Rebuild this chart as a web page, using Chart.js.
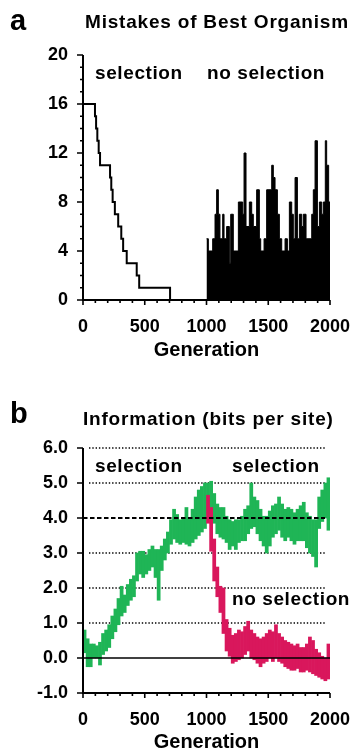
<!DOCTYPE html>
<html>
<head>
<meta charset="utf-8">
<script src="https://cdn.jsdelivr.net/npm/chart.js@4/dist/chart.umd.min.js"></script>
<style>
  html, body { margin: 0; padding: 0; background: #fff; }
  #wrapA { position: absolute; left: 0; top: 0; width: 355px; height: 375px; }
  #wrapB { position: absolute; left: 0; top: 375px; width: 355px; height: 376px; }
</style>
</head>
<body>
<div id="wrapA"><canvas id="chartA"></canvas></div>
<div id="wrapB"><canvas id="chartB"></canvas></div>
<script>
// --- (a) Mistakes of best organism ---
// selection phase: generation at which the count drops to the next value
const stepGen = [0, 97, 106, 116, 127, 138, 219, 229, 240, 258, 285, 310, 325, 354, 435, 455, 705, 1000];
const stepMistakes = [16, 15, 14, 13, 12, 11, 10, 9, 8, 7, 6, 5, 4, 3, 2, 1, 0, 0];

// no selection phase (upper edge of the black region)
const noiseGen = [1000, 1015, 1050, 1069, 1082, 1096, 1109, 1131, 1142, 1163, 1185, 1196, 1217, 1258, 1293, 1304,
  1320, 1347, 1366, 1379, 1406, 1428, 1439, 1466, 1487, 1528, 1541, 1555, 1574, 1590, 1609, 1636, 1655, 1671,
  1690, 1703, 1717, 1736, 1752, 1771, 1784, 1806, 1852, 1865, 1879, 1898, 1914, 1933, 1946, 1962, 1973, 1989, 2000];
const noiseMistakes = [5, 4, 5, 7, 9, 7, 5, 7, 5, 6, 3, 7, 4, 8, 7, 12,
  6, 8, 7, 6, 9, 5, 4, 5, 9, 11, 10, 9, 7, 5, 4, 5, 4, 8,
  7, 5, 10, 5, 7, 6, 7, 5, 7, 9, 13, 6, 8, 7, 8, 13, 11, 8, 8];

// --- (b) Information (bits per site), 25-generation bins, low/high of the noisy trace ---
const binWidth = 25;
const greenLo = [0.15, -0.25, -0.25, 0.0, 0.0, -0.2, 0.1, 0.2, 0.3, 0.55,
  0.75, 0.95, 1.2, 1.3, 1.5, 1.65, 1.75, 2.2, 2.4, 2.3,
  2.4, 2.5, 2.6, 2.3, 1.65, 2.5, 2.8, 3.0, 3.25, 3.4,
  3.3, 3.25, 3.3, 3.25, 3.2, 3.3, 3.4, 3.5, 3.6, 3.7,
  4.1, 4.2, 3.85, 3.55, 3.45, 3.4, 3.3, 3.1, 3.2, 3.1,
  3.3, 3.35, 3.35, 3.55, 3.7, 3.75, 3.55, 3.35, 3.2, 3.0,
  3.2, 3.45, 3.55, 3.65, 3.45, 3.35, 3.45, 3.35, 3.25, 3.35,
  3.35, 3.35, 3.15, 3.0, 2.9, 2.6, 3.7, 3.9, 4.0, 3.65];
const greenHi = [0.8, 0.55, 0.4, 0.4, 0.35, 0.45, 0.7, 0.8, 0.95, 1.2,
  1.4, 1.7, 2.05, 1.8, 2.1, 2.25, 2.35, 3.0, 3.05, 3.05,
  2.95, 3.1, 3.2, 3.1, 3.1, 3.2, 3.4, 3.6, 3.95, 4.25,
  4.1, 3.95, 4.0, 4.3, 4.0, 4.25, 4.6, 4.8, 4.9, 5.0,
  5.0, 5.05, 4.7, 4.4, 4.3, 4.3, 4.05, 3.95, 3.9, 3.95,
  3.95, 4.05, 4.25, 4.35, 5.0, 4.6, 4.5, 4.25, 4.05, 4.05,
  4.2, 4.35, 4.4, 4.6, 4.4, 4.25, 4.3, 4.25, 4.15, 4.25,
  4.35, 4.45, 4.15, 4.05, 3.95, 3.95, 4.6, 4.8, 5.0, 5.15];
const redStart = 1000;
const redLo = [3.85, 3.05, 2.2, 1.75, 1.3, 0.7, 0.2, 0.05, -0.15, -0.1,
  -0.05, 0.0, 0.1, 0.2, 0.0, -0.05, -0.15, -0.25, -0.15, -0.1,
  0.0, -0.1, 0.0, -0.1, -0.15, -0.25, -0.3, -0.35, -0.35, -0.3,
  -0.4, -0.4, -0.35, -0.4, -0.45, -0.5, -0.55, -0.6, -0.65, -0.6];
const redHi = [4.65, 4.3, 3.4, 2.6, 2.05, 2.0, 1.1, 0.85, 0.65, 0.7,
  0.8, 0.75, 0.9, 1.05, 0.8, 0.7, 0.6, 0.55, 0.6, 0.7,
  0.8, 0.75, 0.95, 0.7, 0.6, 0.5, 0.45, 0.4, 0.35, 0.4,
  0.3, 0.3, 0.4, 0.6, 0.5, 0.25, 0.15, 0.05, 0.0, 0.4];

const dottedLevels = [1, 2, 3, 5, 6];
const dashedLevel = 4;
const zeroLevel = 0;

const FONT = '"Liberation Sans", Arial, Helvetica, sans-serif';
const GREEN = '#1fb556';
const RED = '#d9175c';

function label(ctx, str, x, y, size, spacing, align) {
  ctx.save();
  ctx.font = 'bold ' + size + 'px ' + FONT;
  ctx.letterSpacing = spacing + 'px';
  ctx.textAlign = align || 'left';
  ctx.textBaseline = 'alphabetic';
  ctx.fillStyle = '#000';
  ctx.fillText(str, x, y);
  ctx.restore();
}

function drawAxes(chart, yMinorStep, xMinorStep) {
  const { ctx, chartArea: a } = chart;
  const xs = chart.scales.x, ys = chart.scales.y;
  const isMajor = (scale, v) => scale.ticks.some(t => Math.abs(t.value - v) < 1e-6);
  ctx.save();
  ctx.strokeStyle = '#000';
  ctx.lineWidth = 2;
  ctx.beginPath();
  ctx.moveTo(a.left, a.top); ctx.lineTo(a.left, a.bottom);
  ctx.moveTo(a.left - 1, a.bottom); ctx.lineTo(a.right, a.bottom);
  ctx.stroke();
  ctx.lineWidth = 1.6;
  ctx.beginPath();
  for (let v = ys.min; v <= ys.max + 1e-6; v += yMinorStep) {
    const py = ys.getPixelForValue(v);
    ctx.moveTo(a.left - (isMajor(ys, v) ? 6 : 3), py); ctx.lineTo(a.left, py);
  }
  for (let v = xs.min; v <= xs.max + 1e-6; v += xMinorStep) {
    const px = xs.getPixelForValue(v);
    ctx.moveTo(px, a.bottom); ctx.lineTo(px, a.bottom + (isMajor(xs, v) ? 5 : 3));
  }
  ctx.stroke();
  ctx.restore();
}

const tickFont = { family: FONT, size: 18, weight: 'bold' };
const noGrid = { display: false, drawTicks: false };

function xScale(height) {
  return {
    type: 'linear', min: 0, max: 2000, offset: false,
    ticks: { stepSize: 500, font: tickFont, color: '#000', padding: 16, autoSkip: false, maxRotation: 0,
      callback: v => String(v) },
    grid: noGrid, border: { display: false },
    afterFit: s => { s.height = height; s.paddingLeft = 0; s.paddingRight = 0; }
  };
}

// --- panel a ---
const panelA = {
  id: 'panelA',
  afterDraw(chart) {
    const { ctx, chartArea: a } = chart;
    drawAxes(chart, 1, 100);
    label(ctx, 'a', 10, 30, 29, 0);
    label(ctx, 'Mistakes of Best Organism', a.left + 2, 28, 19, 0.8);
    label(ctx, 'selection', a.left + 12, 79, 19, 0.6);
    label(ctx, 'no selection', a.left + 124, 79, 19, 0.6);
    label(ctx, 'Generation', (a.left + a.right) / 2, 356, 20, 0, 'center');
  }
};

new Chart(document.getElementById('chartA'), {
  type: 'line',
  data: {
    datasets: [
      {
        data: stepGen.map((g, i) => ({ x: g, y: stepMistakes[i] })),
        stepped: 'before', borderColor: '#000', borderWidth: 2, pointRadius: 0, fill: false
      },
      {
        data: noiseGen.map((g, i) => ({ x: g, y: noiseMistakes[i] })),
        stepped: 'before', borderColor: '#000', backgroundColor: '#000', borderWidth: 1, pointRadius: 0, fill: 'origin'
      }
    ]
  },
  options: {
    responsive: true, maintainAspectRatio: false, animation: false,
    layout: { padding: { top: 55, right: 25, left: 0, bottom: 0 } },
    plugins: { legend: { display: false }, tooltip: { enabled: false } },
    scales: {
      x: xScale(75),
      y: {
        min: 0, max: 20,
        ticks: { stepSize: 4, font: tickFont, color: '#000', padding: 15 },
        grid: noGrid, border: { display: false },
        afterFit: s => { s.width = 83; }
      }
    }
  },
  plugins: [panelA]
});

// --- panel b ---
function hLine(chart, v, dash, width, x0, x1) {
  const { ctx } = chart;
  const py = chart.scales.y.getPixelForValue(v);
  ctx.save();
  ctx.strokeStyle = '#000';
  ctx.lineWidth = width;
  ctx.setLineDash(dash);
  ctx.beginPath(); ctx.moveTo(x0, py); ctx.lineTo(x1, py); ctx.stroke();
  ctx.restore();
}

const panelB = {
  id: 'panelB',
  beforeDatasetsDraw(chart) {
    const a = chart.chartArea;
    dottedLevels.forEach(v => hLine(chart, v, [1.4, 1.9], 1.4, a.left + 6, a.right - 4));
  },
  afterDatasetsDraw(chart) {
    const a = chart.chartArea;
    hLine(chart, dashedLevel, [4.5, 2.5], 2, a.left, a.right - 5);
    hLine(chart, zeroLevel, [], 1.5, a.left, a.right);
  },
  afterDraw(chart) {
    const { ctx, chartArea: a } = chart;
    drawAxes(chart, 1, 100);
    label(ctx, 'b', 10, 48, 29, 0);
    label(ctx, 'Information (bits per site)', a.left, 50, 19, 0.8);
    label(ctx, 'selection', a.left + 12, 97, 19, 0.6);
    label(ctx, 'selection', a.left + 149, 97, 19, 0.6);
    label(ctx, 'no selection', a.left + 149, 230, 19, 0.6);
    label(ctx, 'Generation', (a.left + a.right) / 2, 373, 20, 0, 'center');
  }
};

const barStyle = { grouped: false, barPercentage: 1, categoryPercentage: 1, borderWidth: 0 };

new Chart(document.getElementById('chartB'), {
  type: 'bar',
  data: {
    datasets: [
      Object.assign({
        data: redLo.map((lo, i) => ({ x: redStart + binWidth * (i + 0.5), y: [lo, redHi[i]] })),
        backgroundColor: RED, order: 0
      }, barStyle),
      Object.assign({
        data: greenLo.map((lo, i) => ({ x: binWidth * (i + 0.5), y: [lo, greenHi[i]] })),
        backgroundColor: GREEN, order: 1
      }, barStyle)
    ]
  },
  options: {
    responsive: true, maintainAspectRatio: false, animation: false,
    layout: { padding: { top: 73, right: 25, left: 0, bottom: 0 } },
    plugins: { legend: { display: false }, tooltip: { enabled: false } },
    scales: {
      x: xScale(58),
      y: {
        min: -1, max: 6,
        ticks: { stepSize: 1, font: tickFont, color: '#000', padding: 15, callback: v => v.toFixed(1) },
        grid: noGrid, border: { display: false },
        afterFit: s => { s.width = 83; }
      }
    }
  },
  plugins: [panelB]
});
</script>
</body>
</html>
